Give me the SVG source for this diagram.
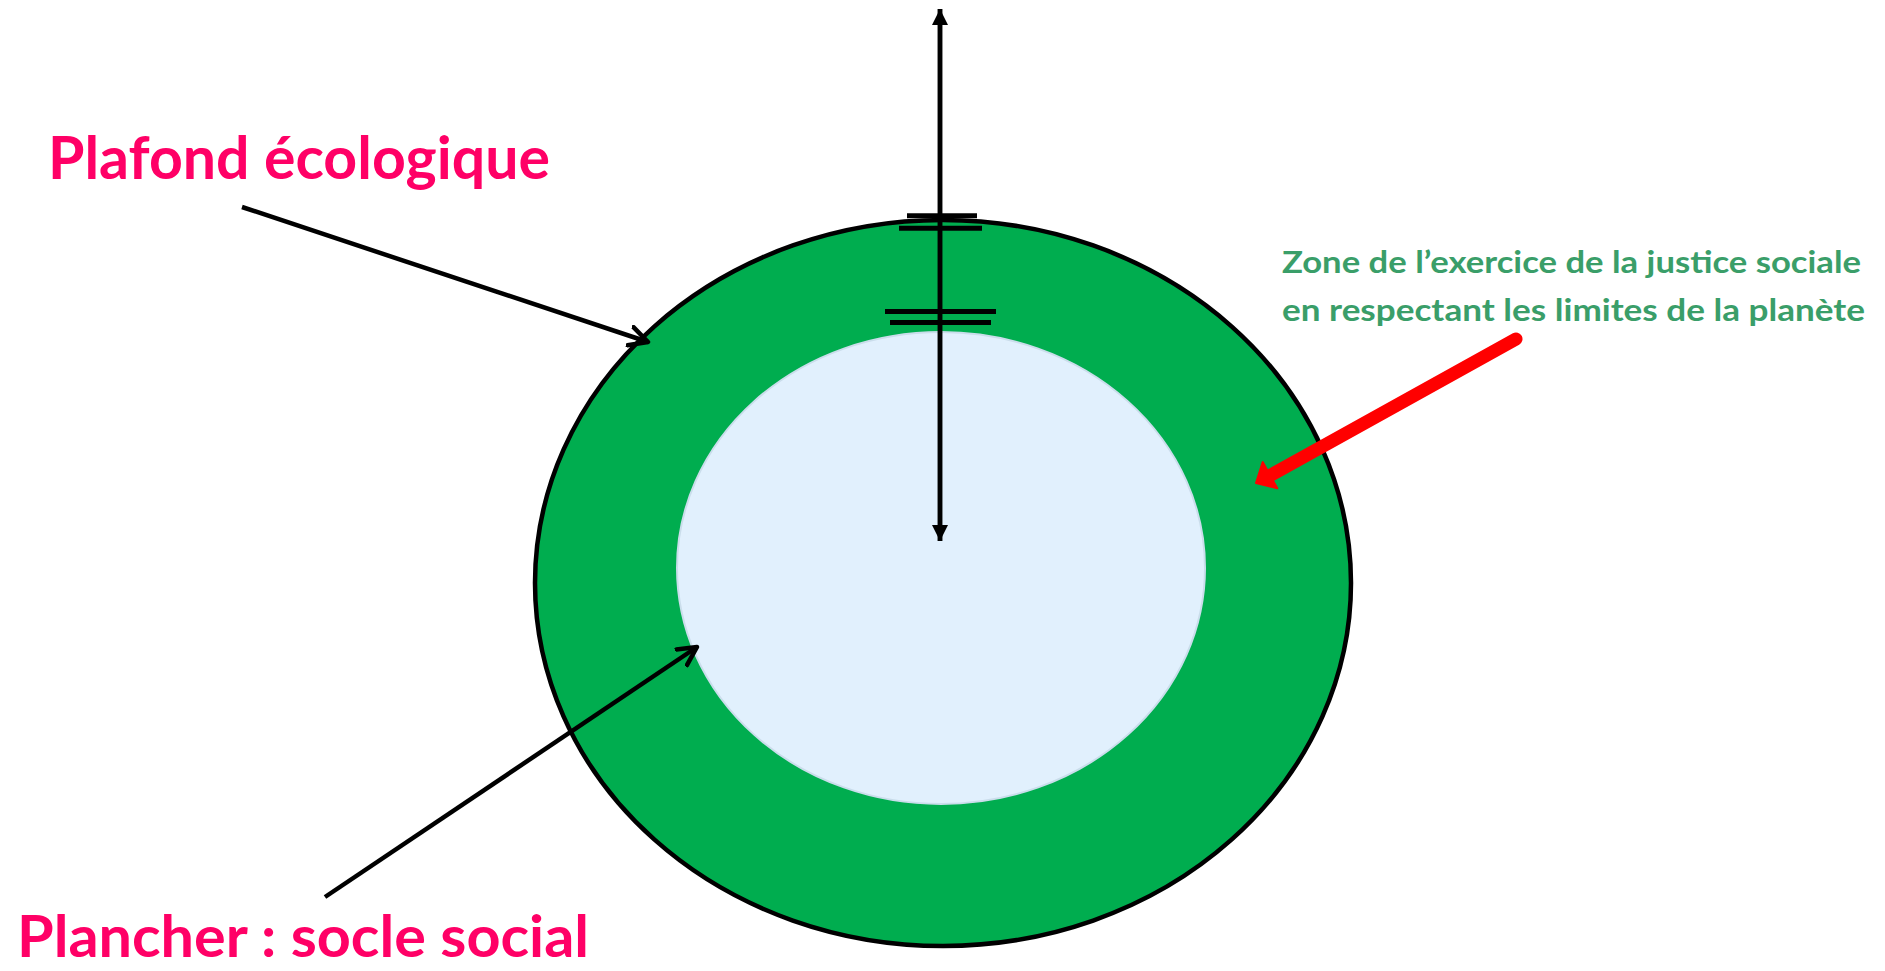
<svg xmlns="http://www.w3.org/2000/svg" width="1885" height="971" viewBox="0 0 1885 971">
  <style>
    .pink { font-family: Lato, "Open Sans", "Liberation Sans", sans-serif; font-weight: bold; fill: #FF0066; }
    .green { font-family: Lato, "Open Sans", "Liberation Sans", sans-serif; font-weight: bold; fill: #3A9E69; font-size: 30px; }
    .conn { stroke: #000; stroke-width: 4.5; fill: none; }
    .bar { stroke: #000; stroke-width: 5; }
  </style>
  <defs>
    <marker id="open" viewBox="0 0 24 24" refX="20" refY="12" markerWidth="24" markerHeight="24" markerUnits="userSpaceOnUse" orient="auto">
      <path d="M1.5,2.5 L20,12 L1.5,21.5" fill="none" stroke="#000" stroke-width="4.5" stroke-linecap="round" stroke-linejoin="round"/>
    </marker>
    <marker id="solid" viewBox="0 0 16 16" refX="16" refY="8" markerWidth="16" markerHeight="16" markerUnits="userSpaceOnUse" orient="auto">
      <path d="M0,0 L16,8 L0,16 Z" fill="#000"/>
    </marker>
  </defs>
  <rect width="1885" height="971" fill="#fff"/>

  <g id="outer-zone">
    <ellipse cx="943" cy="583" rx="408" ry="363" fill="#00AD4F" stroke="#000" stroke-width="4.5"/>
  </g>
  <g id="inner-zone">
    <ellipse cx="941" cy="568" rx="264" ry="236" fill="#E1F0FD" stroke="#CADDEB" stroke-width="2"/>
  </g>

  <g id="connectors">
    <line class="conn" x1="940" y1="541" x2="940" y2="9" marker-end="url(#solid)"/>
    <line class="conn" x1="940" y1="9" x2="940" y2="541" marker-end="url(#solid)"/>
    <line class="bar" x1="907" y1="215.8" x2="977" y2="215.8"/>
    <line class="bar" x1="899" y1="228.2" x2="982" y2="228.2"/>
    <line class="bar" x1="885" y1="311.5" x2="996" y2="311.5"/>
    <line class="bar" x1="890" y1="322.5" x2="991" y2="322.5"/>
    <line class="conn" x1="242" y1="207" x2="648" y2="342" marker-end="url(#open)"/>
    <line class="conn" x1="325" y1="897" x2="697" y2="647" marker-end="url(#open)"/>
    <g id="red-arrow">
      <line x1="1516" y1="339" x2="1271" y2="475" stroke="#FF0000" stroke-width="13" stroke-linecap="round"/>
      <polygon points="1256,483 1277.3,488.3 1262.7,462.1" fill="#FF0000" stroke="#FF0000" stroke-width="2" stroke-linejoin="round"/>
    </g>
  </g>

  <g id="label-plafond">
    <text class="pink" x="48" y="179" font-size="60" textLength="502" lengthAdjust="spacingAndGlyphs">Plafond écologique</text>
  </g>
  <g id="label-plancher">
    <text class="pink" x="17" y="957" font-size="58" textLength="572" lengthAdjust="spacingAndGlyphs">Plancher : socle social</text>
  </g>
  <g id="label-zone">
    <text class="green" x="1282" y="273" textLength="579" lengthAdjust="spacingAndGlyphs">Zone de l’exercice de la justice sociale</text>
    <text class="green" x="1282" y="321" textLength="583" lengthAdjust="spacingAndGlyphs">en respectant les limites de la planète</text>
  </g>
</svg>
